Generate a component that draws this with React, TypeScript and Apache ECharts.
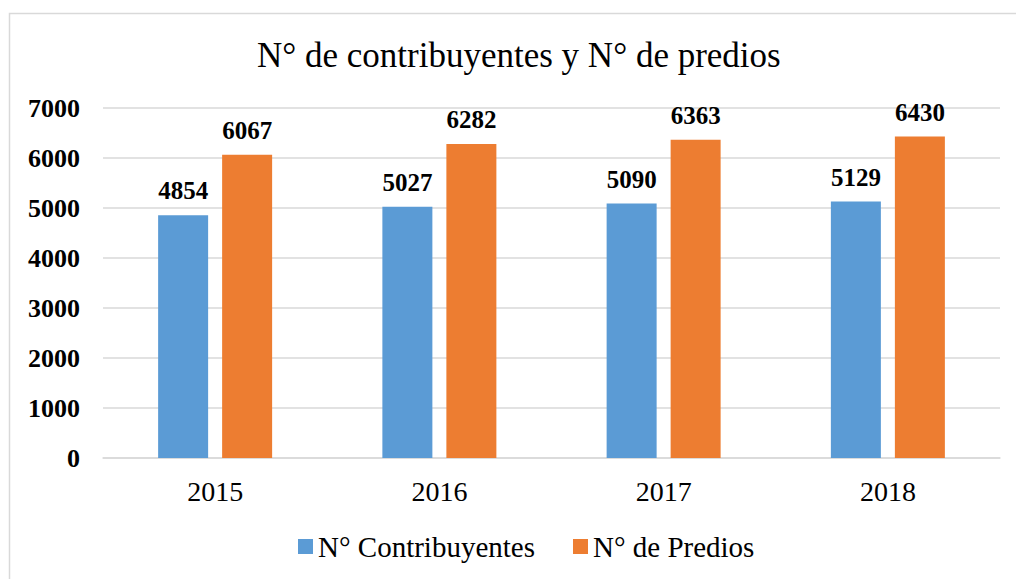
import React, { useEffect, useRef } from "react";
import * as echarts from "echarts";

const categories = ["2015", "2016", "2017", "2018"];
const contribuyentes = [4854, 5027, 5090, 5129];
const predios = [6067, 6282, 6363, 6430];
const seriesNames = ["N° Contribuyentes", "N° de Predios"];
const titleText = "N° de contribuyentes y N° de predios";

const FONT = "Liberation Serif";

export default function App() {
  const ref = useRef<HTMLDivElement>(null);
  useEffect(() => {
    if (!ref.current) return;
    const chart = echarts.init(ref.current, undefined, { renderer: "svg" });
    const label = {
      show: true,
      position: "top",
      distance: 12,
      fontFamily: FONT,
      fontWeight: "bold",
      fontSize: 25,
      color: "#000",
    };
    chart.setOption({
      animation: false,
      backgroundColor: "#fff",
      textStyle: { fontFamily: FONT },
      title: {
        text: titleText,
        left: 252,
        top: 33,
        textStyle: { fontFamily: FONT, fontSize: 35, fontWeight: "normal", color: "#000" },
      },
      graphic: [
        {
          type: "rect",
          shape: { x: 9.5, y: 13.5, width: 1020, height: 600 },
          style: { fill: "none", stroke: "#d9d9d9", lineWidth: 1.5 },
          silent: true,
        },
      ],
      legend: {
        bottom: 13,
        left: 293,
        itemWidth: 15,
        itemHeight: 15,
        itemGap: 38,
        icon: "rect",
        textStyle: { fontFamily: FONT, fontSize: 29, color: "#000" },
        data: seriesNames,
      },
      grid: { left: 103, right: 16, top: 108, bottom: 121 },
      xAxis: {
        type: "category",
        data: categories,
        axisLine: { lineStyle: { color: "#d9d9d9", width: 1.5 } },
        axisTick: { show: false },
        axisLabel: { fontFamily: FONT, fontSize: 28, color: "#000", margin: 19 },
      },
      yAxis: {
        type: "value",
        min: 0,
        max: 7000,
        interval: 1000,
        axisLine: { show: false },
        axisTick: { show: false },
        splitLine: { lineStyle: { color: "#d9d9d9", width: 1.5 } },
        axisLabel: {
          fontFamily: FONT,
          fontSize: 26,
          fontWeight: "bold",
          color: "#000",
          margin: 23,
          formatter: (v: number) => String(v),
        },
      },
      series: [
        {
          name: seriesNames[0],
          type: "bar",
          data: contribuyentes,
          barWidth: 50,
          barGap: "28%",
          itemStyle: { color: "#5B9BD5" },
          label,
        },
        {
          name: seriesNames[1],
          type: "bar",
          data: predios,
          barWidth: 50,
          itemStyle: { color: "#ED7D31" },
          label,
        },
      ],
    });
    return () => chart.dispose();
  }, []);
  return (
    <div
      ref={ref}
      style={{ position: "fixed", left: 0, top: 0, width: 1016, height: 579 }}
    />
  );
}
